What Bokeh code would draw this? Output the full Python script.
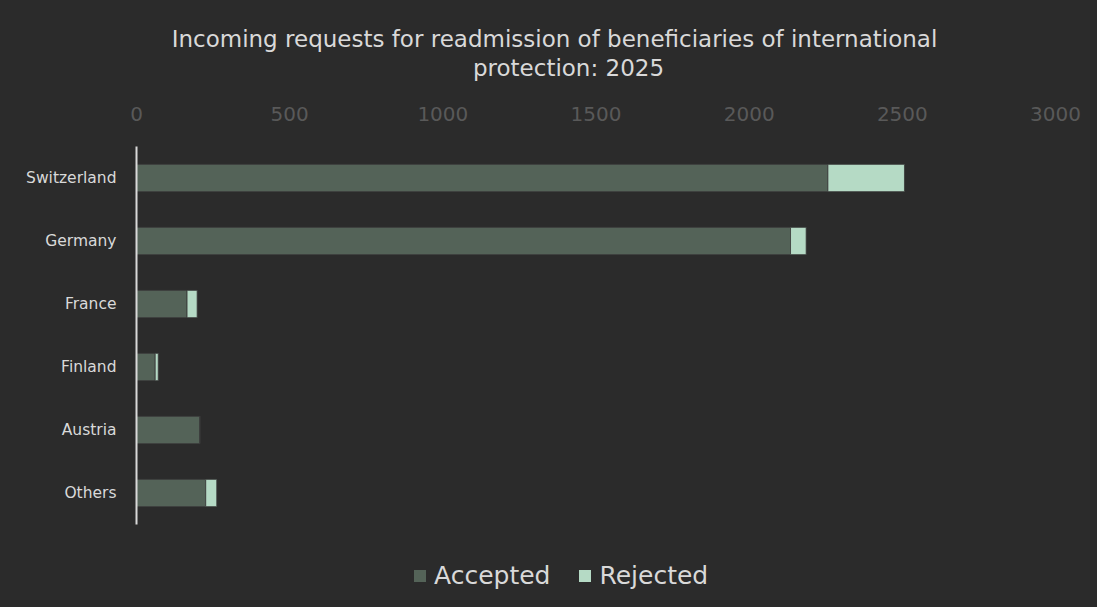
from bokeh.plotting import figure
from bokeh.layouts import column
from bokeh.core.properties import value
from bokeh.models import ColumnDataSource, FactorRange, Range1d, SingleIntervalTicker, Legend, LegendItem
from bokeh.embed import file_html
from bokeh.resources import INLINE

countries = ["Switzerland", "Germany", "France", "Finland", "Austria", "Others"]
accepted = [2257, 2135, 165, 61, 207, 226]
rejected = [250, 51, 33, 10, 0, 36]
series = ["Accepted", "Rejected"]
title_lines = ["Incoming requests for readmission of beneficiaries of international", "protection: 2025"]

BG = "#2b2b2b"
ACC = "#546358"
REJ = "#b5dac5"
TXT = "#d9d9d9"
FONT = "DejaVu Sans"
W = 1097
H_TOP, H_MAIN, H_LEG = 95, 439, 73
FRAME_L, FRAME_R = 136, 1055


def blank(h, xr, yr):
    f = figure(width=W, height=h, x_range=xr, y_range=yr,
               x_axis_type=None, y_axis_type=None, output_backend="svg",
               toolbar_location=None, title=None, min_border=0,
               background_fill_color=None, border_fill_color=None)
    f.outline_line_color = None
    f.xgrid.visible = False
    f.ygrid.visible = False
    return f


# --- title strip (pixel coordinates of the aligned frame) ---
p0 = blank(H_TOP, Range1d(FRAME_L, FRAME_R), Range1d(H_TOP, 0))
p0.text(x=[554, 568], y=[38, 67], text=title_lines,
        text_align="center", text_baseline="middle",
        text_font=value(FONT), text_font_size="23px", text_color=TXT)

# --- main chart ---
src = ColumnDataSource(dict(country=countries, Accepted=accepted, Rejected=rejected))

p = figure(width=W, height=H_MAIN,
           y_range=FactorRange(*reversed(countries)),
           x_range=Range1d(0, 3000),
           x_axis_location="above",
           output_backend="svg", toolbar_location=None, title=None,
           min_border_left=FRAME_L, min_border_right=W - FRAME_R,
           min_border_top=146 - H_TOP, min_border_bottom=10,
           background_fill_color=None, border_fill_color=None)
p.outline_line_color = None

rs = p.hbar_stack(series, y="country", height=0.433, color=[ACC, REJ],
                  line_color="#3a3a3a", line_width=0.8, source=src)

p.xgrid.visible = False
p.ygrid.visible = False

xa = p.xaxis[0]
xa.ticker = SingleIntervalTicker(interval=500)
xa.axis_line_color = None
xa.major_tick_line_color = None
xa.minor_tick_line_color = None
xa.major_label_text_color = "#595959"
xa.major_label_text_font = FONT
xa.major_label_text_font_size = "20px"
xa.major_label_standoff = 20

ya = p.yaxis[0]
ya.axis_line_color = TXT
ya.axis_line_width = 2
ya.major_tick_line_color = None
ya.minor_tick_line_color = None
ya.major_label_text_color = TXT
ya.major_label_text_font = FONT
ya.major_label_text_font_size = "15.5px"
ya.major_label_standoff = 14

# --- legend strip ---
p2 = blank(H_LEG, Range1d(0, 1), Range1d(0, 1))
swatches = [p2.hbar(y=0, left=0, right=0, height=0, source=src,
                    fill_color=c, line_alpha=0) for c in (ACC, REJ)]

legend = Legend(items=[LegendItem(label=s, renderers=[r]) for s, r in zip(series, swatches)],
                orientation="horizontal", location=(276, 17),
                background_fill_alpha=0, border_line_color=None,
                label_text_color=TXT, label_text_font=FONT, label_text_font_size="25px",
                glyph_width=15, glyph_height=15, spacing=27, margin=0, padding=0,
                label_standoff=7)
p2.add_layout(legend, "center")

layout = column(p0, p, p2, spacing=0, styles={"background-color": BG})
open("out.html", "w").write(file_html(layout, INLINE))
